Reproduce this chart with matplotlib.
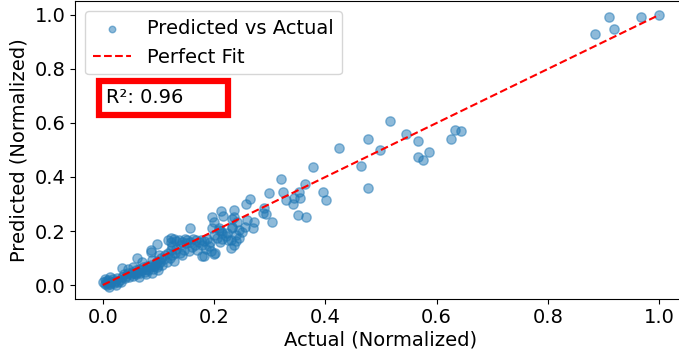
import numpy as np
import matplotlib
matplotlib.use("Agg")
import matplotlib.pyplot as plt
from matplotlib.patches import Rectangle

# values (normalized actual vs predicted)
actual = [
    # cluster near the origin
    0.000, 0.003, 0.005, 0.008, 0.010, 0.012, 0.015, 0.018, 0.020, 0.022,
    0.025, 0.027, 0.030, 0.004, 0.013, 0.011, 0.007, 0.024, 0.033, 0.035,
    # 0.03 - 0.06
    0.035, 0.038, 0.040, 0.042, 0.045, 0.047, 0.050, 0.052, 0.055, 0.057,
    0.060, 0.060, 0.045, 0.055, 0.065,
    # 0.06 - 0.10
    0.062, 0.063, 0.065, 0.067, 0.070, 0.072, 0.075, 0.077, 0.080, 0.082,
    0.085, 0.087, 0.090, 0.092, 0.095, 0.097, 0.100, 0.070, 0.078, 0.088,
    0.098, 0.100,
    # 0.08 - 0.13
    0.086, 0.098, 0.101, 0.087, 0.089, 0.102, 0.105, 0.107, 0.110, 0.112,
    0.115, 0.117, 0.120, 0.122, 0.125, 0.127, 0.130,
    # flat band around 0.16
    0.117, 0.122, 0.127, 0.132, 0.137, 0.142, 0.147, 0.152, 0.157, 0.162,
    0.167, 0.172, 0.177, 0.182, 0.187, 0.192, 0.140, 0.150, 0.165, 0.178,
    0.122,
    # below the flat band
    0.132, 0.138, 0.145, 0.143, 0.155, 0.160, 0.170, 0.179, 0.181, 0.185,
    0.190, 0.195, 0.200, 0.125,
    # 0.19 - 0.26
    0.157, 0.197, 0.209, 0.233, 0.215, 0.224, 0.208, 0.212, 0.245, 0.231,
    0.236, 0.230, 0.202, 0.239, 0.205, 0.215, 0.222, 0.240, 0.250, 0.200,
    0.210, 0.225, 0.245, 0.255,
    # sparse upper part
    0.197, 0.200, 0.212, 0.216, 0.235, 0.236, 0.233, 0.242, 0.259, 0.233,
    0.269, 0.271, 0.264, 0.258, 0.287, 0.290, 0.294, 0.304, 0.299, 0.320,
    0.323, 0.330, 0.342, 0.344, 0.351, 0.352, 0.354, 0.364, 0.366, 0.378,
    0.395, 0.402, 0.425, 0.464, 0.476, 0.476, 0.499, 0.517, 0.545, 0.566,
    0.566, 0.575, 0.586, 0.625, 0.633, 0.643,
    # top right
    0.885, 0.910, 0.919, 0.968, 1.000,
]

predicted = [
    0.010, 0.005, 0.015, 0.008, 0.020, 0.003, 0.012, 0.022, 0.006, 0.016,
    0.025, 0.010, 0.020, 0.022, 0.028, -0.006, 0.000, 0.002, 0.012, 0.028,
    0.062, 0.040, 0.025, 0.035, 0.045, 0.030, 0.040, 0.050, 0.035, 0.045,
    0.055, 0.040, 0.060, 0.065, 0.031,
    0.099, 0.050, 0.060, 0.045, 0.055, 0.065, 0.050, 0.060, 0.070, 0.055,
    0.065, 0.075, 0.060, 0.070, 0.080, 0.065, 0.075, 0.085, 0.040, 0.045,
    0.090, 0.055,
    0.130, 0.151, 0.111, 0.123, 0.093, 0.085, 0.100, 0.075, 0.095, 0.110,
    0.085, 0.120, 0.100, 0.130, 0.110, 0.090, 0.120,
    0.165, 0.160, 0.170, 0.163, 0.168, 0.160, 0.170, 0.165, 0.160, 0.172,
    0.165, 0.158, 0.168, 0.162, 0.170, 0.160, 0.150, 0.155, 0.150, 0.150,
    0.173,
    0.135, 0.120, 0.130, 0.111, 0.125, 0.140, 0.130, 0.107, 0.109, 0.135,
    0.145, 0.125, 0.114, 0.145,
    0.212, 0.210, 0.210, 0.210, 0.191, 0.191, 0.204, 0.201, 0.204, 0.167,
    0.148, 0.136, 0.117, 0.163, 0.175, 0.170, 0.180, 0.185, 0.195, 0.185,
    0.160, 0.165, 0.175, 0.215,
    0.253, 0.234, 0.274, 0.256, 0.251, 0.278, 0.243, 0.232, 0.241, 0.214,
    0.210, 0.232, 0.319, 0.300, 0.266, 0.284, 0.263, 0.232, 0.340, 0.391,
    0.343, 0.315, 0.301, 0.321, 0.260, 0.346, 0.321, 0.373, 0.253, 0.436,
    0.343, 0.315, 0.509, 0.441, 0.359, 0.542, 0.501, 0.606, 0.559, 0.533,
    0.473, 0.464, 0.494, 0.542, 0.575, 0.570,
    0.930, 0.993, 0.948, 0.993, 1.000,
]

fit_line = [0.0, 1.0]
r2_score = 0.96

plt.rcParams['font.size'] = 14

fig = plt.figure(figsize=(6.79, 3.5), dpi=100)
ax = fig.add_axes([0.1105, 0.147, 0.9013, 0.849])

ax.scatter(actual, predicted, alpha=0.5, color='#1f77b4', s=45,
           label='Predicted vs Actual')
ax.plot(fit_line, fit_line, 'r--', linewidth=1.5, label='Perfect Fit')

ax.set_xlim(-0.05, 1.05)
ax.set_ylim(-0.05, 1.05)
ax.set_xticks([0.0, 0.2, 0.4, 0.6, 0.8, 1.0])
ax.set_yticks([0.0, 0.2, 0.4, 0.6, 0.8, 1.0])
ax.set_xlabel('Actual (Normalized)', labelpad=2)
ax.set_ylabel('Predicted (Normalized)')

ax.legend(loc='upper left', markerscale=0.7)

# R² annotation with a thick red frame
ax.add_patch(Rectangle((0.039, 0.618), 0.211, 0.114, transform=ax.transAxes,
                       facecolor='white', edgecolor='red', linewidth=4.5,
                       zorder=5))
ax.text(0.051, 0.675, f'R²: {r2_score:.2f}', transform=ax.transAxes,
        fontsize=14, va='center', ha='left', zorder=6)

fig.savefig('out.png', dpi=100)
